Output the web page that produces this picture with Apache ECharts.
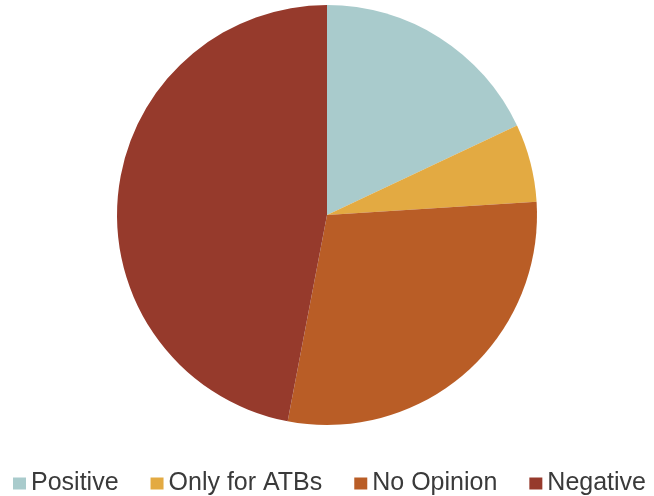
<!DOCTYPE html>
<html><head><meta charset="utf-8">
<script src="https://cdn.jsdelivr.net/npm/echarts@6/dist/echarts.min.js"></script>
<style>html,body{margin:0;padding:0;background:#fff}#c{width:654px;height:496px}</style>
</head><body><div id="c"></div>
<script>
var categories = ['Positive', 'Only for ATBs', 'No Opinion', 'Negative'];
var values = [18, 6, 29, 47];
var colors = ['#A9CBCC', '#E3AA42', '#B95D26', '#963A2C'];

var chart = echarts.init(document.getElementById('c'), null, {renderer: 'canvas'});
chart.setOption({
  animation: false,
  color: colors,
  legend: {
    top: 466,
    left: 8,
    padding: 5,
    itemWidth: 13,
    itemHeight: 12,
    itemGap: 32,
    icon: 'rect',
    textStyle: {fontFamily: 'Liberation Sans, Arial, sans-serif', fontSize: 25, color: '#3a3a3a'},
    data: categories
  },
  series: [{
    type: 'pie',
    center: [327, 215],
    radius: 210,
    startAngle: 90,
    clockwise: true,
    label: {show: false},
    labelLine: {show: false},
    itemStyle: {borderWidth: 0},
    emphasis: {disabled: true},
    data: categories.map(function (c, i) { return {name: c, value: values[i]}; })
  }]
});
</script></body></html>
